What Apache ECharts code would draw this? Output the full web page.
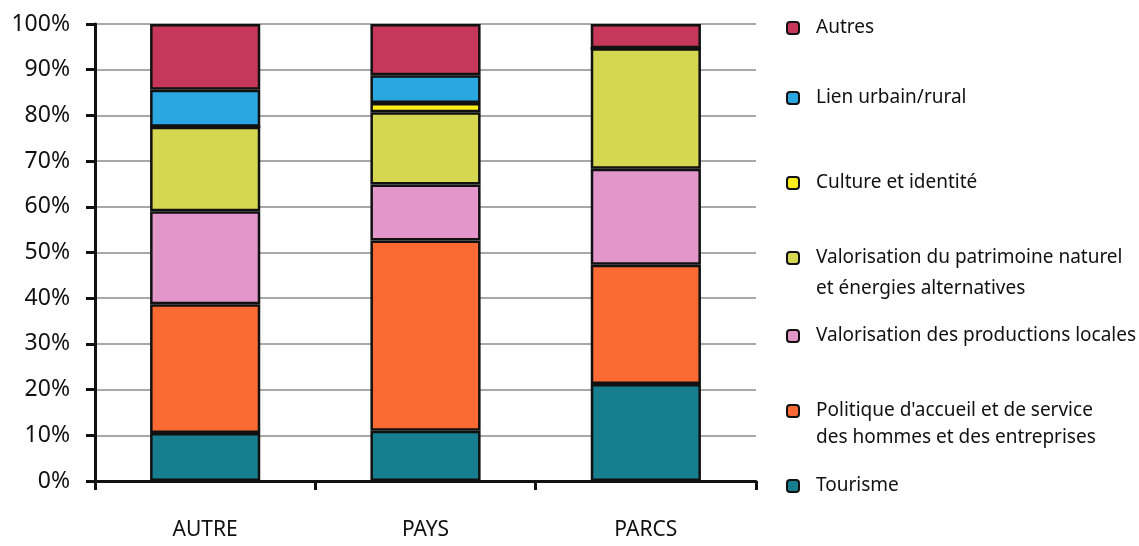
<!DOCTYPE html>
<html>
<head>
<meta charset="utf-8">
<title>Répartition des actions</title>
<script src="https://cdn.jsdelivr.net/npm/echarts@6/dist/echarts.min.js"></script>
<style>
    html, body { margin: 0; padding: 0; background: #fff; }
    #chart { width: 1139px; height: 546px; }
</style>
</head>
<body>
<div id="chart"></div>
<script>
    // categories + values (% of actions)
    var categories = ['AUTRE', 'PAYS', 'PARCS']
    var tourisme = [10.5, 11.0, 21.2]
    var politique = [28.2, 41.6, 26.1]
    var productions = [20.3, 12.3, 21.0]
    var patrimoine = [18.5, 15.8, 26.4]
    var culture = [0, 2.0, 0]
    var lien = [8.1, 6.1, 0]
    var autres = [14.4, 11.2, 5.3]
    var yTicks = [0, 10, 20, 30, 40, 50, 60, 70, 80, 90, 100]

    var seriesNames = [
        'Tourisme',
        'Politique d\'accueil et de service des hommes et des entreprises',
        'Valorisation des productions locales',
        'Valorisation du patrimoine naturel et énergies alternatives',
        'Culture et identité',
        'Lien urbain/rural',
        'Autres'
    ]
    // two-line legend labels: leading blank line keeps line 1 level with the marker
    var legendLabels = {
        'Politique d\'accueil et de service des hommes et des entreprises': '\nPolitique d\'accueil et de service\ndes hommes et des entreprises',
        'Valorisation du patrimoine naturel et énergies alternatives': '\nValorisation du patrimoine naturel\net énergies alternatives'
    }
    var seriesData = [tourisme, politique, productions, patrimoine, culture, lien, autres]
    var colors = ['#167E8E', '#FC6A34', '#E296CA', '#D5D750', '#FFEE1C', '#2AA7E0', '#C73759']

    // legend rows, top to bottom (centre y of each marker)
    var legendRows = [
        { name: 'Autres', y: 28, lh: 24 },
        { name: 'Lien urbain/rural', y: 98, lh: 24 },
        { name: 'Culture et identité', y: 183, lh: 24 },
        { name: 'Valorisation du patrimoine naturel et énergies alternatives', y: 258, lh: 31 },
        { name: 'Valorisation des productions locales', y: 336, lh: 24 },
        { name: 'Politique d\'accueil et de service des hommes et des entreprises', y: 411, lh: 27 },
        { name: 'Tourisme', y: 486, lh: 24 }
    ]

    var font = '"Noto Sans", sans-serif'

    var legends = legendRows.map(function (row) {
        var twoLines = !!legendLabels[row.name]
        var boxH = twoLines ? row.lh * 3 : row.lh
        return {
            data: [row.name],
            left: 786,
            top: row.y - boxH / 2,
            padding: 0,
            itemWidth: 12,
            itemHeight: 12,
            itemGap: 0,
            selectedMode: false,
            itemStyle: { borderColor: '#111', borderWidth: 2 },
            formatter: function (n) { return legendLabels[n] || n },
            textStyle: {
                fontFamily: font,
                fontSize: 19,
                color: '#111',
                lineHeight: row.lh,
                padding: [0, 0, 0, 12]
            }
        }
    })

    var chart = echarts.init(document.getElementById('chart'))
    chart.setOption({
        animation: false,
        grid: { left: 95, right: 383, top: 24, bottom: 65 },
        legend: legends,
        xAxis: {
            type: 'category',
            data: categories,
            axisLine: { lineStyle: { color: '#111', width: 3 } },
            axisTick: { show: true, length: 9, lineStyle: { color: '#111', width: 3 } },
            axisLabel: { fontFamily: font, fontSize: 21, color: '#111', margin: 39 }
        },
        yAxis: {
            type: 'value',
            min: yTicks[0],
            max: yTicks[yTicks.length - 1],
            interval: 10,
            axisLine: { show: true, lineStyle: { color: '#111', width: 3 } },
            axisTick: { show: true, length: 9, lineStyle: { color: '#111', width: 3 } },
            axisLabel: {
                fontFamily: font, fontSize: 23, color: '#111', margin: 25,
                formatter: function (v) { return v + '%' }
            },
            splitLine: { lineStyle: { color: '#a8a8a8', width: 2 } }
        },
        series: seriesNames.map(function (name, i) {
            return {
                name: name,
                type: 'bar',
                stack: 'total',
                barWidth: '50%',
                data: seriesData[i],
                itemStyle: { color: colors[i], borderColor: '#111', borderWidth: 2.5 }
            }
        })
    })
</script>
</body>
</html>
